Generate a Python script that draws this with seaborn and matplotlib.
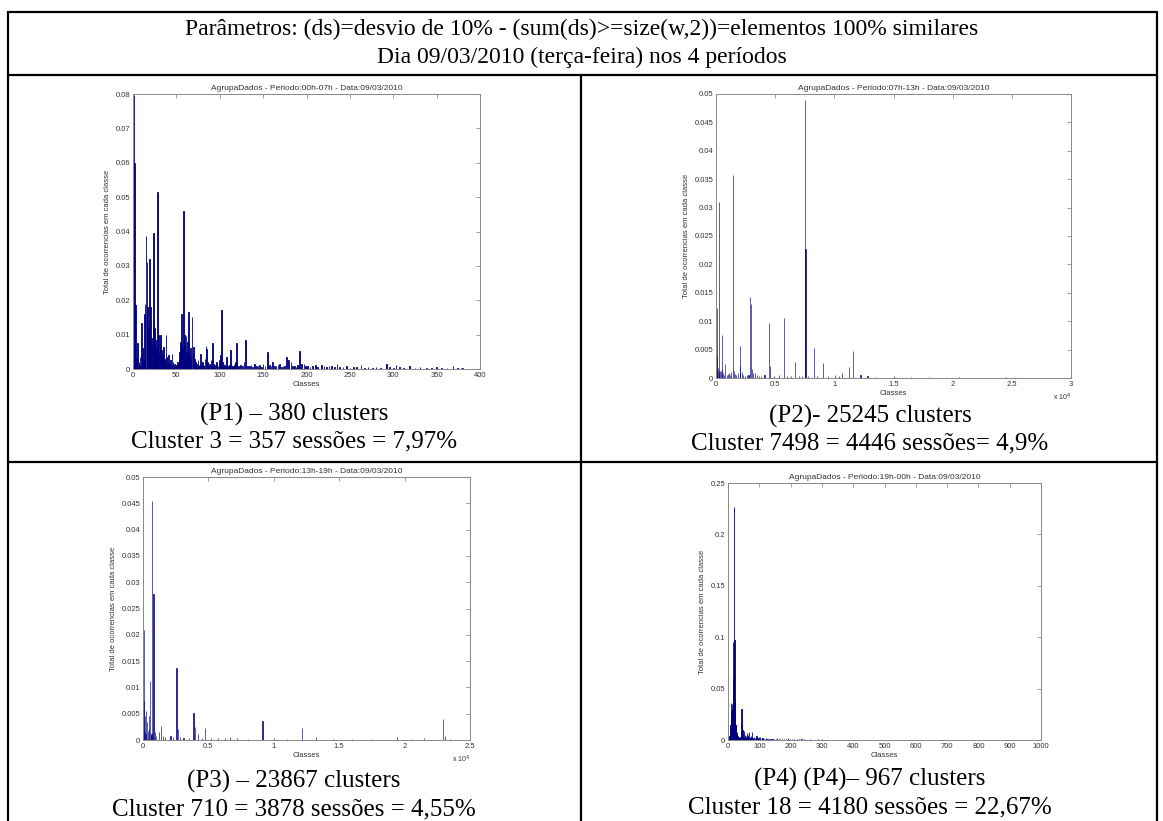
import matplotlib
matplotlib.use("Agg")
from matplotlib import pyplot as plt
from matplotlib.lines import Line2D
from matplotlib.ticker import FuncFormatter
import pandas as pd
import seaborn as sns

# ---- data ----------------------------------------------------------------

# P1: 00h-07h, 380 clusters
p1_class = list(range(1, 121)) + [
    122, 124, 126, 128, 130, 132, 134, 136, 138, 140, 142, 144, 146, 148, 150,
    152, 155, 157, 159, 161, 163, 165, 167, 169, 171, 173, 175, 177, 179, 182,
    184, 186, 188, 190, 192, 194, 197, 199, 201, 204, 207, 210, 213, 217, 220,
    223, 226, 229, 232, 235, 238, 242, 246, 250, 254, 258, 263, 267, 271, 276,
    280, 285, 292, 296, 300, 303, 307, 312, 319, 325, 331, 338, 344, 350, 356,
    362, 369, 374, 378, 380]
p1_value = [
    0.0797, 0.0598, 0.0185, 0.0032, 0.0075, 0.0012, 0.0020, 0.0035, 0.0010, 0.0135,
    0.0060, 0.0028, 0.0160, 0.0190, 0.0388, 0.0310, 0.0180, 0.0120, 0.0320, 0.0180,
    0.0090, 0.0070, 0.0150, 0.0395, 0.0120, 0.0085, 0.0060, 0.0515, 0.0100, 0.0045,
    0.0070, 0.0100, 0.0055, 0.0040, 0.0065, 0.0030, 0.0025, 0.0098, 0.0035, 0.0020,
    0.0040, 0.0015, 0.0025, 0.0012, 0.0045, 0.0020, 0.0010, 0.0015, 0.0008, 0.0012,
    0.0020, 0.0010, 0.0030, 0.0050, 0.0078, 0.0160, 0.0060, 0.0460, 0.0100, 0.0070,
    0.0095, 0.0050, 0.0080, 0.0165, 0.0040, 0.0060, 0.0030, 0.0152, 0.0045, 0.0065,
    0.0030, 0.0020, 0.0015, 0.0010, 0.0025, 0.0012, 0.0008, 0.0045, 0.0015, 0.0020,
    0.0010, 0.0012, 0.0030, 0.0068, 0.0058, 0.0020, 0.0010, 0.0015, 0.0008, 0.0025,
    0.0030, 0.0075, 0.0015, 0.0010, 0.0012, 0.0020, 0.0008, 0.0010, 0.0015, 0.0025,
    0.0040, 0.0172, 0.0020, 0.0010, 0.0015, 0.0008, 0.0012, 0.0035, 0.0010, 0.0008,
    0.0012, 0.0055, 0.0015, 0.0008, 0.0010, 0.0006, 0.0012, 0.0020, 0.0075, 0.0015,
    0.0008, 0.0012, 0.0010, 0.0020, 0.0085, 0.0010, 0.0008, 0.0012, 0.0006, 0.0015,
    0.0010, 0.0008, 0.0012, 0.0006, 0.0015, 0.0010, 0.0050, 0.0012, 0.0008, 0.0020,
    0.0010, 0.0008, 0.0012, 0.0015, 0.0006, 0.0010, 0.0008, 0.0035, 0.0025, 0.0020,
    0.0008, 0.0010, 0.0006, 0.0012, 0.0053, 0.0015, 0.0015, 0.0008, 0.0010, 0.0006,
    0.0008, 0.0012, 0.0005, 0.0012, 0.0008, 0.0006, 0.0010, 0.0008, 0.0005, 0.0015,
    0.0006, 0.0005, 0.0008, 0.0004, 0.0006, 0.0005, 0.0012, 0.0004, 0.0005, 0.0004,
    0.0006, 0.0004, 0.0015, 0.0005, 0.0004, 0.0012, 0.0005, 0.0004, 0.0008, 0.0004,
    0.0006, 0.0004, 0.0003, 0.0006, 0.0003, 0.0004, 0.0008, 0.0004, 0.0003, 0.0002]

# P2: 07h-13h, 25245 clusters
p2_class = [
    10, 20, 50, 90, 120, 160, 220, 250, 280, 330, 400, 470, 520, 600, 700,
    780, 900, 1000, 1100, 1200, 1300, 1410, 1500, 1600, 1700, 1850, 2030, 2060,
    2200, 2300, 2450, 2600, 2750, 2900, 2960, 3040, 3150, 3300, 3500, 3650, 3800,
    4100, 4480, 4540, 4900, 5300, 5730, 6000, 6300, 6640, 7000, 7300, 7498, 7560,
    7800, 8300, 8500, 9050, 9500, 10020, 10400, 10680, 11240, 11610, 12210, 12800,
    13500, 15030, 16500, 18000, 20500, 24500]
p2_value = [
    0.0015, 0.0025, 0.0123, 0.0040, 0.0010, 0.0018, 0.0012, 0.0008, 0.0310, 0.0013,
    0.0012, 0.0075, 0.0015, 0.0008, 0.0006, 0.0025, 0.0006, 0.0007, 0.0008, 0.0005,
    0.0010, 0.0357, 0.0012, 0.0007, 0.0006, 0.0008, 0.0057, 0.0022, 0.0010, 0.0006,
    0.0004, 0.0005, 0.0006, 0.0143, 0.0130, 0.0015, 0.0008, 0.0008, 0.0005, 0.0003,
    0.0004, 0.0005, 0.0097, 0.0022, 0.0004, 0.0005, 0.0105, 0.0004, 0.0003, 0.0028,
    0.0004, 0.0003, 0.0490, 0.0227, 0.0004, 0.0052, 0.0003, 0.0026, 0.0003, 0.0005,
    0.0003, 0.0008, 0.0020, 0.0047, 0.0005, 0.0003, 0.0002, 0.0003, 0.0002, 0.0002,
    0.0002, 0.0002]

# P3: 13h-19h, 23867 clusters
p3_class = [
    5, 15, 45, 70, 110, 150, 180, 220, 260, 310, 360, 430, 480, 540, 600, 650,
    710, 800, 910, 1000, 1190, 1390, 1500, 1700, 2100, 2300, 2560, 2670, 2800,
    3100, 3500, 3860, 3950, 4200, 4500, 4740, 5200, 5700, 6300, 6670, 7200, 8000,
    9140, 10000, 11000, 12180, 13200, 14500, 16000, 17500, 19420, 20500, 21500,
    22970, 23100, 23500]
p3_value = [
    0.0030, 0.0235, 0.0210, 0.0020, 0.0075, 0.0045, 0.0015, 0.0055, 0.0012, 0.0035,
    0.0018, 0.0045, 0.0020, 0.0113, 0.0010, 0.0012, 0.0455, 0.0277, 0.0015, 0.0008,
    0.0015, 0.0027, 0.0008, 0.0005, 0.0008, 0.0005, 0.0136, 0.0020, 0.0006, 0.0004,
    0.0003, 0.0052, 0.0024, 0.0012, 0.0004, 0.0023, 0.0003, 0.0003, 0.0004, 0.0005,
    0.0003, 0.0002, 0.0036, 0.0003, 0.0002, 0.0022, 0.0005, 0.0002, 0.0002, 0.0002,
    0.0005, 0.0002, 0.0003, 0.0040, 0.0008, 0.0002]

# P4: 19h-00h, 967 clusters
p4_class = list(range(1, 51, 2)) + list(range(2, 51, 2))
p4_value = [
    0.0010, 0.0020, 0.0035, 0.0060, 0.0360, 0.0220, 0.0180, 0.0120, 0.0950, 0.0800,
    0.0970, 0.0200, 0.0100, 0.0060, 0.0040, 0.0040, 0.0020, 0.0015, 0.0020, 0.0030,
    0.0080, 0.0305, 0.0050, 0.0040, 0.0025,
    0.0015, 0.0030, 0.0045, 0.0150, 0.0280, 0.0350, 0.0300, 0.0600, 0.2267, 0.0600,
    0.0400, 0.0150, 0.0150, 0.0080, 0.0030, 0.0040, 0.0025, 0.0030, 0.0025, 0.0015,
    0.0050, 0.0150, 0.0100, 0.0030, 0.0090]
p4_class += [
    52, 54, 56, 58, 60, 62, 64, 66, 68, 70, 72, 74, 76, 78, 80, 83, 86, 89, 91, 94,
    97, 100, 103, 106, 110, 114, 118, 121, 126, 131, 136, 142, 148, 153, 157, 162,
    167, 172, 178, 185, 192, 198, 205, 212, 220, 228, 235, 243, 250, 262, 275, 288,
    300, 315, 330, 350, 370, 390, 406, 430, 460, 501, 540, 580, 620]
p4_value += [
    0.0030, 0.0050, 0.0020, 0.0040, 0.0070, 0.0030, 0.0050, 0.0020, 0.0080, 0.0030,
    0.0020, 0.0040, 0.0080, 0.0020, 0.0015, 0.0025, 0.0015, 0.0020, 0.0040, 0.0015,
    0.0020, 0.0030, 0.0030, 0.0012, 0.0015, 0.0010, 0.0008, 0.0015, 0.0008, 0.0010,
    0.0006, 0.0008, 0.0010, 0.0006, 0.0015, 0.0008, 0.0010, 0.0006, 0.0008, 0.0010,
    0.0015, 0.0006, 0.0008, 0.0005, 0.0010, 0.0006, 0.0005, 0.0008, 0.0004, 0.0005,
    0.0004, 0.0005, 0.0010, 0.0004, 0.0003, 0.0004, 0.0003, 0.0002, 0.0004, 0.0002,
    0.0002, 0.0004, 0.0002, 0.0002, 0.0002]

titles = ['AgrupaDados - Periodo:00h-07h - Data:09/03/2010',
          'AgrupaDados - Periodo:07h-13h - Data:09/03/2010',
          'AgrupaDados - Periodo:13h-19h - Data:09/03/2010',
          'AgrupaDados - Periodo:19h-00h - Data:09/03/2010']
captions = [('(P1) – 380 clusters', 'Cluster 3 = 357 sessões = 7,97%'),
            ('(P2)- 25245 clusters', 'Cluster 7498 = 4446 sessões= 4,9%'),
            ('(P3) – 23867 clusters', 'Cluster 710 = 3878 sessões = 4,55%'),
            ('(P4) (P4)– 967 clusters', 'Cluster 18 = 4180 sessões = 22,67%')]
header = ['Parâmetros: (ds)=desvio de 10% - (sum(ds)>=size(w,2))=elementos 100% similares',
          'Dia 09/03/2010 (terça-feira) nos 4 períodos']

# ---- layout ---------------------------------------------------------------
W, H = 1163, 821
NAVY = '#00007f'
sns.set_style('white')
plt.rcParams['font.family'] = ['Liberation Sans', 'DejaVu Sans']

fig = plt.figure(figsize=(W / 100, H / 100), dpi=100)


def fx(x):
    return x / W


def fy(y):
    return 1 - y / H


def hline(y, x0, x1):
    fig.add_artist(Line2D([fx(x0), fx(x1)], [fy(y), fy(y)], color='black', lw=1.6))


def vline(x, y0, y1):
    fig.add_artist(Line2D([fx(x), fx(x)], [fy(y0), fy(y1)], color='black', lw=1.6))


# table frame
hline(12, 8, 1157)
hline(75, 8, 1157)
hline(462, 8, 1157)
vline(8, 12, 821)
vline(1157, 12, 821)
vline(581, 75, 821)

serif = dict(family=['Liberation Serif', 'DejaVu Serif'], color='black')
fig.text(fx(582), fy(29), header[0], ha='center', va='center', fontsize=17, **serif)
fig.text(fx(582), fy(57), header[1], ha='center', va='center', fontsize=17, **serif)

panels = [
    dict(cls=p1_class, val=p1_value, box=(133, 480, 94, 369), xmax=400, xstep=50,
         ymax=0.08, ystep=0.01, x4=False, lw=0.6, cap=(294, 414, 441)),
    dict(cls=p2_class, val=p2_value, box=(716, 1071, 94, 378), xmax=30000, xstep=5000,
         ymax=0.05, ystep=0.005, x4=True, lw=0.45, cap=(870, 416, 443)),
    dict(cls=p3_class, val=p3_value, box=(143, 470, 477, 740), xmax=25000, xstep=5000,
         ymax=0.05, ystep=0.005, x4=True, lw=0.45, cap=(294, 781, 809)),
    dict(cls=p4_class, val=p4_value, box=(728, 1041, 483, 740), xmax=1000, xstep=100,
         ymax=0.25, ystep=0.05, x4=False, lw=0.6, cap=(870, 779, 807)),
]

for i, p in enumerate(panels):
    l, r, t, b = p['box']
    ax = fig.add_axes([fx(l), fy(b), (r - l) / W, (b - t) / H])
    df = pd.DataFrame({'Classes': p['cls'], 'Total': p['val']})
    sns.barplot(data=df, x='Classes', y='Total', native_scale=True, color=NAVY,
                saturation=1, width=0.8, linewidth=p['lw'], edgecolor=NAVY,
                errorbar=None, ax=ax)
    ax.set_xlim(0, p['xmax'])
    ax.set_ylim(0, p['ymax'])
    nx = int(round(p['xmax'] / p['xstep']))
    ny = int(round(p['ymax'] / p['ystep']))
    ax.set_xticks([k * p['xstep'] for k in range(nx + 1)])
    ax.set_yticks([round(k * p['ystep'], 4) for k in range(ny + 1)])
    if p['x4']:
        ax.xaxis.set_major_formatter(FuncFormatter(lambda v, _: f'{v / 1e4:g}'))
        ax.annotate('x 10$^4$', xy=(1, 0), xycoords='axes fraction',
                    xytext=(0, -14), textcoords='offset points', ha='right',
                    va='center', fontsize=5, color='#333333')
    else:
        ax.xaxis.set_major_formatter(FuncFormatter(lambda v, _: f'{v:g}'))
    ax.yaxis.set_major_formatter(FuncFormatter(lambda v, _: f'{v:g}'))
    ax.tick_params(direction='in', top=True, right=True, length=3, width=0.5,
                   labelsize=5.5, colors='#777777', labelcolor='#333333', pad=2)
    for s in ax.spines.values():
        s.set_color('#888888')
        s.set_linewidth(0.7)
    ax.set_xlabel('Classes', fontsize=5.5, color='#333333', labelpad=1.5)
    ax.set_ylabel('Total de ocorrencias em cada classe', fontsize=5.5,
                  color='#333333', labelpad=3)
    ax.set_title(titles[i], fontsize=6, color='#333333', pad=3)

    cx, y1, y2 = p['cap']
    fig.text(fx(cx), fy(y1), captions[i][0], ha='center', va='center', fontsize=18, **serif)
    fig.text(fx(cx), fy(y2), captions[i][1], ha='center', va='center', fontsize=18, **serif)

fig.savefig('out.png', dpi=100, facecolor='white')
